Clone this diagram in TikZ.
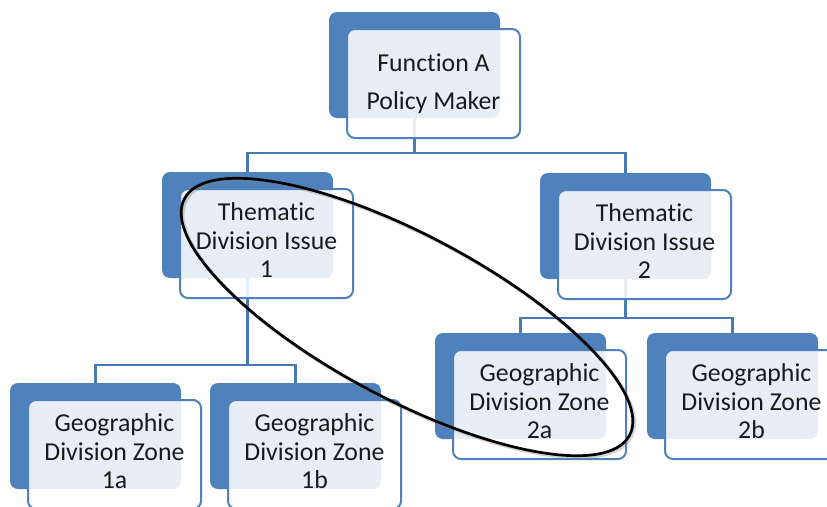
\documentclass[tikz,border=0pt]{standalone}
\usepackage{fontspec}
\setmainfont[Ligatures=NoCommon]{Carlito}
\pgfdeclarelayer{bg}
\pgfsetlayers{bg,main}
\definecolor{dkblue}{HTML}{4F81BD}
\definecolor{linkblue}{HTML}{4A7AB5}
\definecolor{txt}{HTML}{1A1A1A}
\tikzset{
  backbox/.style={fill=dkblue, rounded corners=8pt, minimum width=171pt,
    minimum height=106pt, anchor=north west, inner sep=0pt, outer sep=0pt},
  frontbox/.style={draw=dkblue, line width=2pt, fill=white, fill opacity=0.87,
    text opacity=1, rounded corners=8pt, minimum width=173pt, minimum height=109pt,
    anchor=north west, inner sep=0pt, outer sep=0pt, align=center, text=txt,
    font=\fontsize{25.8}{28.5}\selectfont},
  link/.style={draw=linkblue, line width=2.6pt},
  ring/.style={draw=black, line width=2.7pt},
  ringshade/.style={draw=gray, line width=3.6pt, opacity=0.35}
}
\begin{document}
\begin{tikzpicture}[x=1pt, y=-1pt]
\useasboundingbox (0,0) rectangle (827,506);

% dark backing panels
\node[backbox] (topb) at (329,12) {};
\node[backbox] (t1b)  at (162,172) {};
\node[backbox] (t2b)  at (540,173) {};
\node[backbox] (z1ab) at (10,383) {};
\node[backbox] (z1bb) at (210,383) {};
\node[backbox] (z2ab) at (435,333) {};
\node[backbox] (z2bb) at (647,333) {};

% translucent front panels with the labels
\node[frontbox] (top) at ([shift={(18,17)}]topb.north west) {Function A\\[10pt]Policy Maker};
\node[frontbox] (t1)  at ([shift={(18,17)}]t1b.north west) {Thematic\\Division Issue\\1\\[-22pt]};
\node[frontbox] (t2)  at ([shift={(18,17)}]t2b.north west) {Thematic\\Division Issue\\2\\[-22pt]};
\node[frontbox] (z1a) at ([shift={(18,17)}]z1ab.north west) {Geographic\\Division Zone\\1a\\[-22pt]};
\node[frontbox] (z1b) at ([shift={(18,17)}]z1bb.north west) {Geographic\\Division Zone\\1b\\[-22pt]};
\node[frontbox] (z2a) at ([shift={(18,17)}]z2ab.north west) {Geographic\\Division Zone\\2a\\[-22pt]};
\node[frontbox] (z2b) at ([shift={(18,17)}]z2bb.north west) {Geographic\\Division Zone\\2b\\[-22pt]};

% bus points of the tree
\coordinate (bus0) at (topb.south |- 0,153);
\coordinate (bus1) at (t1b.south |- 0,365);
\coordinate (bus2) at (t2b.south |- 0,318);

\begin{pgfonlayer}{bg}
  \draw[link] (topb.south) -- (bus0) -| (t1b.north);
  \draw[link] (bus0) -| (t2b.north);
  \draw[link] (t1b.south) -- (bus1) -| (z1ab.north);
  \draw[link] (bus1) -| (z1bb.north);
  \draw[link] (t2b.south) -- (bus2) -| (z2ab.north);
  \draw[link] (bus2) -| (z2bb.north);
\end{pgfonlayer}

% ring grouping issue 1 with zone 2a
\coordinate (ringc) at (407,317);
\draw[ringshade, rotate around={-28:(408.5,318.5)}] (408.5,318.5) ellipse [x radius=252, y radius=82];
\draw[ring, rotate around={-28:(ringc)}] (ringc) ellipse [x radius=252, y radius=82];
\end{tikzpicture}
\end{document}
